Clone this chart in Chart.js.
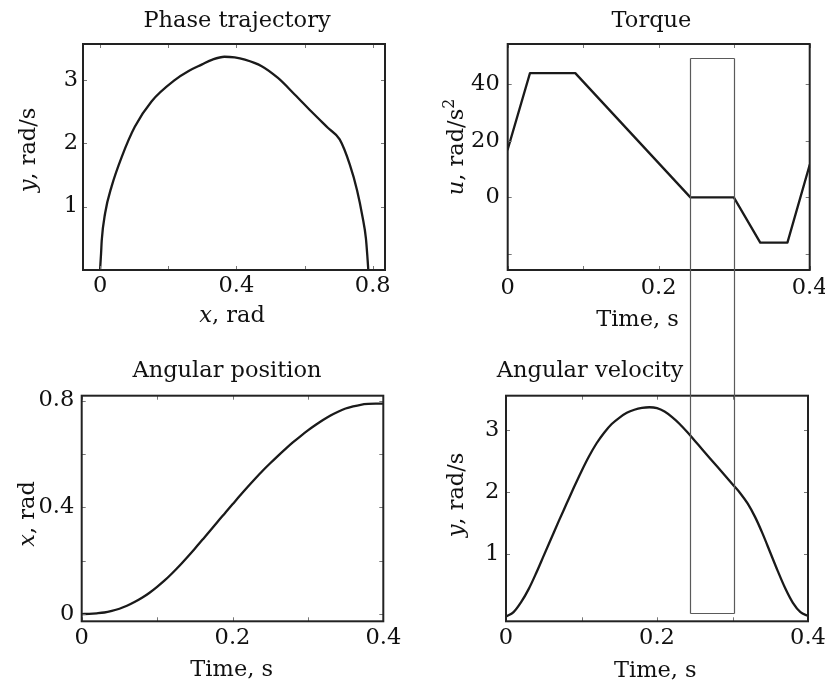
<!DOCTYPE html>
<html><head><meta charset="utf-8">
<script src="https://cdn.jsdelivr.net/npm/chart.js@4.4.1/dist/chart.umd.min.js"></script>
<style>
html,body{margin:0;padding:0;background:#fff;}
body{width:825px;height:686px;position:relative;overflow:hidden;}
canvas{position:absolute;}
</style></head><body>
<canvas id="cPhase" width="412" height="343" style="left:0;top:0"></canvas>
<canvas id="cTorque" width="413" height="343" style="left:412px;top:0"></canvas>
<canvas id="cPos" width="412" height="343" style="left:0;top:343px"></canvas>
<canvas id="cVel" width="413" height="343" style="left:412px;top:343px"></canvas>
<script>
// ---------------- data ----------------
const timeS = [0,0.01,0.02,0.03,0.04,0.05,0.06,0.07,0.08,0.09,0.10,0.11,0.12,0.13,0.14,0.15,0.16,0.17,0.18,0.19,0.20,
  0.21,0.22,0.23,0.24,0.25,0.26,0.27,0.28,0.29,0.30,0.31,0.32,0.33,0.34,0.35,0.36,0.37,0.38,0.39,0.40];
const velocity = [0.00,0.07,0.23,0.44,0.70,0.98,1.26,1.54,1.81,2.08,2.34,2.58,2.79,2.96,3.10,3.20,3.28,3.33,3.36,3.37,3.355,
  3.30,3.21,3.10,2.97,2.83,2.69,2.55,2.41,2.27,2.13,1.99,1.82,1.60,1.33,1.03,0.73,0.45,0.22,0.07,0.01];
const position = [0,0.001,0.003,0.006,0.012,0.020,0.031,0.045,0.061,0.080,0.102,0.126,0.153,0.182,0.213,0.245,0.278,0.311,0.345,0.378,0.411,
  0.444,0.476,0.507,0.537,0.565,0.592,0.618,0.643,0.666,0.688,0.708,0.727,0.744,0.758,0.770,0.778,0.784,0.787,0.788,0.788];
const phaseX = [0,0.003,0.005,0.015,0.034,0.064,0.102,0.151,0.220,0.260,0.298,0.330,0.365,0.395,0.425,0.473,0.522,0.571,0.620,0.669,0.703,0.733,0.754,0.770,0.780,0.785,0.787];
const phaseY = [0,0.26,0.47,0.90,1.32,1.79,2.26,2.66,3.00,3.14,3.24,3.32,3.365,3.355,3.32,3.22,3.03,2.77,2.50,2.24,2.06,1.66,1.26,0.84,0.50,0.16,0];
const torqueT = [0,0.0295,0.0895,0.242,0.2995,0.3345,0.3705,0.4];
const torqueU = [17,44,44,0,0,-16,-16,11.5];
const rectT = [0.242,0.300];
const rectTopU = 49.4;
const rectBottomV = 0.06;

const titles = ['Phase trajectory','Torque','Angular position','Angular velocity'];
const timeTicks = [0,0.1,0.2,0.3,0.4];
const timeTickLabels = ['0','','0.2','','0.4'];
const phaseXTicks = [0,0.2,0.4,0.6,0.8];
const phaseXTickLabels = ['0','','0.4','','0.8'];
const velTicks = [1,2,3];
const velTickLabels = ['1','2','3'];
const torqueTicks = [-20,0,20,40];
const torqueTickLabels = ['','0','20','40'];
const posTicks = [0,0.2,0.4,0.6,0.8];
const posTickLabels = ['0','','0.4','','0.8'];

const labelXRad = [['x','i'],[', rad','n']];
const labelYRadS = [['y','i'],[', rad/s','n']];
const labelURadS2 = [['u','i'],[', rad/s','n'],['2','s']];
const labelTime = [['Time, s','n']];

// ---------------- style ----------------
const FAMILY = "'DejaVu Serif', serif";
const FS = 22.5;
const TXT = '#111';
const LINE = '#1a1a1a';

function fontStr(kind, size){
  if (kind === 'i') return 'italic ' + size + 'px ' + FAMILY;
  if (kind === 's') return (size*0.7) + 'px ' + FAMILY;
  return size + 'px ' + FAMILY;
}
function drawParts(ctx, parts, cx, cy, rotate){
  ctx.save();
  ctx.translate(cx, cy);
  if (rotate) ctx.rotate(-Math.PI/2);
  ctx.fillStyle = TXT;
  ctx.textBaseline = 'alphabetic';
  ctx.textAlign = 'left';
  const w = parts.map(p => { ctx.font = fontStr(p[1], FS); return ctx.measureText(p[0]).width; });
  const total = w.reduce((a,b)=>a+b,0);
  let x = -total/2;
  parts.forEach((p,i) => {
    ctx.font = fontStr(p[1], FS);
    ctx.fillText(p[0], x, p[1]==='s' ? -FS*0.42 : 0);
    x += w[i];
  });
  ctx.restore();
}

const charts = {};

function make(id, s){
  const W = document.getElementById(id).width, H = document.getElementById(id).height;
  const plugin = {
    id: 'frame_' + id,
    afterDatasetsDraw(chart){
      const {ctx, chartArea:a, scales:{x, y}} = chart;
      ctx.save();
      ctx.strokeStyle = '#777'; ctx.lineWidth = 1;
      const L = 4;
      ctx.beginPath();
      s.xTicks.forEach(v => {
        const p = Math.round(x.getPixelForValue(v)) + 0.5;
        ctx.moveTo(p, a.bottom); ctx.lineTo(p, a.bottom - L);
        ctx.moveTo(p, a.top); ctx.lineTo(p, a.top + L);
      });
      s.yTicks.forEach(v => {
        const p = Math.round(y.getPixelForValue(v)) + 0.5;
        ctx.moveTo(a.left, p); ctx.lineTo(a.left + L, p);
        ctx.moveTo(a.right, p); ctx.lineTo(a.right - L, p);
      });
      ctx.stroke();
      ctx.strokeStyle = '#222'; ctx.lineWidth = 2;
      ctx.strokeRect(a.left, a.top, a.right - a.left, a.bottom - a.top);
      ctx.restore();
    },
    afterDraw(chart){
      const ctx = chart.ctx;
      ctx.save();
      ctx.fillStyle = TXT;
      ctx.font = fontStr('n', FS);
      ctx.textAlign = 'center';
      ctx.textBaseline = 'alphabetic';
      ctx.fillText(s.title[0], s.title[1], s.title[2]);
      ctx.restore();
      drawParts(ctx, s.xTitle[0], s.xTitle[1], s.xTitle[2], false);
      drawParts(ctx, s.yTitle[0], s.yTitle[1], s.yTitle[2], true);
      if (s.extra) s.extra(chart, W, H);
    }
  };
  const ds = {
    data: s.points,
    borderColor: LINE, borderWidth: 2.3, pointRadius: 0, fill: false,
    borderJoinStyle: 'round', borderCapStyle: 'round'
  };
  if (s.smooth) ds.cubicInterpolationMode = 'monotone'; else ds.tension = 0;
  const cfg = {
    type: 'line',
    data: { datasets: [ds] },
    options: {
      responsive: false, animation: false, devicePixelRatio: 1,
      layout: { padding: { left: 0, top: s.area.t, right: W - s.area.r, bottom: 0 } },
      plugins: { legend: {display:false}, tooltip: {enabled:false}, title:{display:false} },
      scales: {
        x: {
          type: 'linear', min: s.xRange[0], max: s.xRange[1],
          grid: {display:false, drawTicks:false, tickLength:0}, border: {display:false},
          afterBuildTicks: sc => { sc.ticks = s.xTicks.map(v => ({value:v})); },
          afterFit: sc => { sc.height = H - s.area.b; sc.paddingLeft = 0; sc.paddingRight = 0; },
          ticks: { autoSkip:false, maxRotation:0, minRotation:0, padding: s.xPad, color: TXT,
            font: {family: FAMILY, size: FS, lineHeight: 1},
            callback: (v, i) => s.xLabels[i] }
        },
        y: {
          type: 'linear', min: s.yRange[0], max: s.yRange[1],
          grid: {display:false, drawTicks:false, tickLength:0}, border: {display:false},
          afterBuildTicks: sc => { sc.ticks = s.yTicks.map(v => ({value:v})); },
          afterFit: sc => { sc.width = s.area.l; sc.paddingTop = 0; sc.paddingBottom = 0; },
          ticks: { autoSkip:false, padding: s.yPad, color: TXT,
            font: {family: FAMILY, size: FS, lineHeight: 1},
            callback: (v, i) => s.yLabels[i] }
        }
      }
    },
    plugins: [plugin]
  };
  charts[id] = new Chart(document.getElementById(id), cfg);
  return charts[id];
}

function rectLines(chart, xs, yTop, yBot, drawTop, drawBottom){
  const ctx = chart.ctx;
  ctx.save();
  ctx.strokeStyle = '#5a5a5a'; ctx.lineWidth = 1.2;
  ctx.beginPath();
  const x0 = Math.round(xs[0]) + 0.5, x1 = Math.round(xs[1]) + 0.5;
  const t = Math.round(yTop) + 0.5, b = Math.round(yBot) + 0.5;
  ctx.moveTo(x0, t); ctx.lineTo(x0, b);
  ctx.moveTo(x1, t); ctx.lineTo(x1, b);
  if (drawTop) { ctx.moveTo(x0, t); ctx.lineTo(x1, t); }
  if (drawBottom) { ctx.moveTo(x0, b); ctx.lineTo(x1, b); }
  ctx.stroke();
  ctx.restore();
}

// Phase trajectory
make('cPhase', {
  area: {l:83, r:385, t:44, b:270},
  xRange: [-0.05, 0.836], yRange: [0, 3.566],
  xTicks: phaseXTicks, xLabels: phaseXTickLabels,
  yTicks: velTicks, yLabels: velTickLabels,
  xPad: 5, yPad: 5,
  points: phaseX.map((v,i) => ({x:v, y:phaseY[i]})), smooth: true,
  title: [titles[0], 237, 27],
  xTitle: [labelXRad, 232, 322],
  yTitle: [labelYRadS, 35, 150]
});

// Torque
const torqueChart = make('cTorque', {
  area: {l:95.7, r:397.7, t:44, b:270},
  xRange: [0, 0.4], yRange: [-25.7, 54.3],
  xTicks: timeTicks, xLabels: timeTickLabels,
  yTicks: torqueTicks, yLabels: torqueTickLabels,
  xPad: 7, yPad: 8,
  points: torqueT.map((v,i) => ({x:v, y:torqueU[i]})), smooth: false,
  title: [titles[1], 239.5, 27],
  xTitle: [labelTime, 225.5, 326],
  yTitle: [labelURadS2, 51, 147],
  extra: (chart, W, H) => {
    const x = chart.scales.x, y = chart.scales.y;
    rectLines(chart, rectT.map(v => x.getPixelForValue(v)), y.getPixelForValue(rectTopU), H + 2, true, false);
  }
});

// Angular position
make('cPos', {
  area: {l:81.7, r:383.3, t:52.7, b:278.3},
  xRange: [0, 0.4], yRange: [-0.027, 0.818],
  xTicks: timeTicks, xLabels: timeTickLabels,
  yTicks: posTicks, yLabels: posTickLabels,
  xPad: 6, yPad: 7.5,
  points: timeS.map((v,i) => ({x:v, y:position[i]})), smooth: true,
  title: [titles[2], 227, 34],
  xTitle: [labelTime, 231.7, 333],
  yTitle: [labelXRad, 34, 171]
});

// Angular velocity
make('cVel', {
  area: {l:94, r:396, t:52.7, b:278.3},
  xRange: [0, 0.4], yRange: [-0.078, 3.556],
  xTicks: timeTicks, xLabels: timeTickLabels,
  yTicks: velTicks, yLabels: velTickLabels,
  xPad: 6, yPad: 6.7,
  points: timeS.map((v,i) => ({x:v, y:velocity[i]})), smooth: true,
  title: [titles[3], 178, 33.5],
  xTitle: [labelTime, 243.3, 334],
  yTitle: [labelYRadS, 51, 152],
  extra: (chart, W, H) => {
    const tx = torqueChart.scales.x, y = chart.scales.y;
    rectLines(chart, rectT.map(v => tx.getPixelForValue(v)), -2, y.getPixelForValue(rectBottomV), false, true);
  }
});
</script>
</body></html>
